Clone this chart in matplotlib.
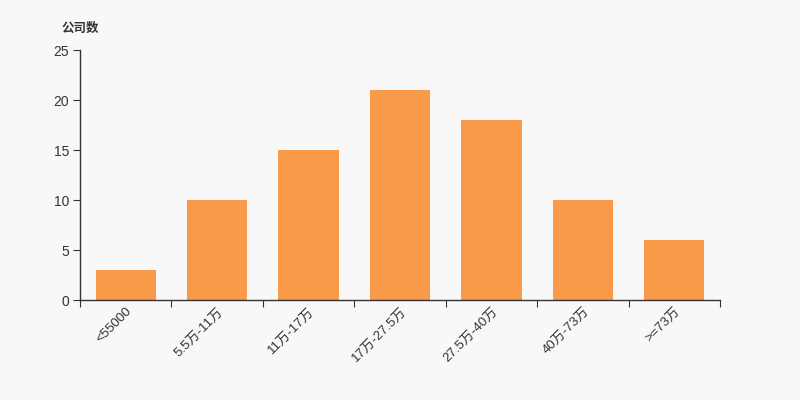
import matplotlib
matplotlib.use("Agg")
import matplotlib.pyplot as plt

plt.rcParams['font.family'] = ['Liberation Sans', 'Noto Sans CJK SC', 'DejaVu Sans']

categories = ["<55000", "5.5万-11万", "11万-17万", "17万-27.5万", "27.5万-40万", "40万-73万", ">=73万"]
values = [3, 10, 15, 21, 18, 10, 6]
yticks = [0, 5, 10, 15, 20, 25]

bg = '#f8f8f8'
fig = plt.figure(figsize=(8, 4), dpi=100, facecolor=bg)
ax = fig.add_axes([0.1, 0.25, 0.8, 0.625], facecolor=bg)

x = list(range(len(categories)))
ax.bar(x, values, width=0.66, color='#f89a4a', zorder=2)
ax.set_xlim(-0.5, len(categories) - 0.5)
ax.set_ylim(0, 25)
ax.set_yticks(yticks)
ax.set_yticklabels([str(v) for v in yticks], fontsize=10, color='#333333')

ax.set_xticks([i - 0.5 for i in range(len(categories) + 1)])
ax.set_xticklabels([])
ax.set_xticks(x, minor=True)
ax.set_xticklabels(categories, minor=True, rotation=45, ha='right', rotation_mode='anchor',
                   fontsize=9.5, color='#333333')
ax.tick_params(axis='x', which='minor', length=0, pad=4)
ax.tick_params(axis='x', which='major', length=5, color='#333333')
ax.tick_params(axis='y', length=5, color='#333333', pad=3)

for s in ['top', 'right']:
    ax.spines[s].set_visible(False)
for s in ['left', 'bottom']:
    ax.spines[s].set_color('#333333')
    ax.spines[s].set_linewidth(1)

fig.text(0.0775, 0.93, "公司数", fontsize=9, fontweight='bold', color='#333333', ha='left', va='center',
         family=['Noto Sans CJK SC', 'DejaVu Sans'])

fig.savefig('out.png', dpi=100, facecolor=bg)
